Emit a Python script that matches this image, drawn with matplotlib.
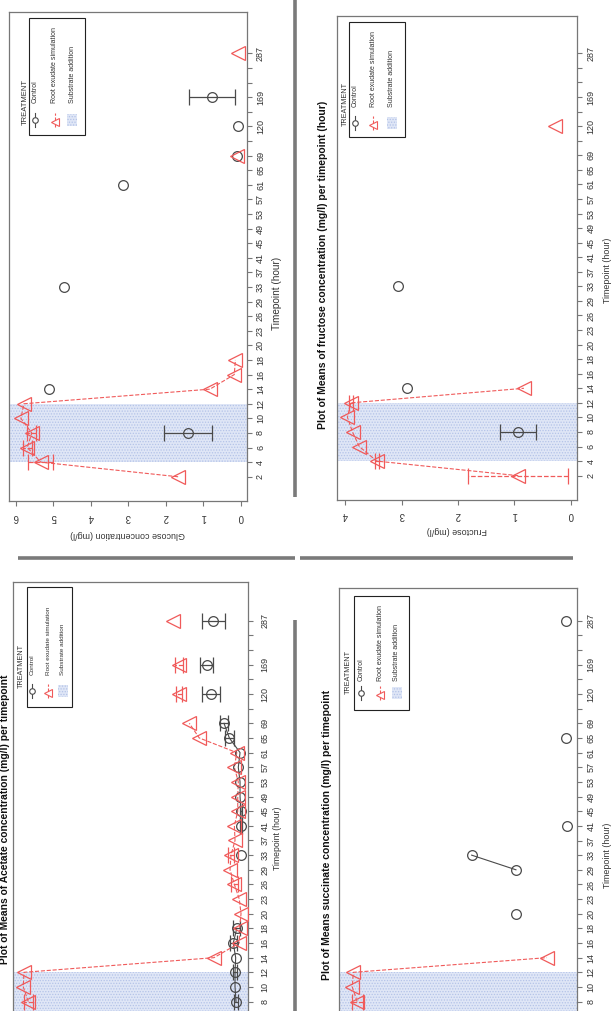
import matplotlib
matplotlib.use('Agg')
import matplotlib.pyplot as plt
from matplotlib.lines import Line2D
from matplotlib.patches import Rectangle

plt.rcParams['font.family'] = ['Liberation Sans', 'DejaVu Sans']
plt.rcParams['hatch.linewidth'] = 0.6

W, H = 615, 1011

# ---------------- data ----------------
levels = ['2', '4', '6', '8', '10', '12', '14', '16', '18', '20', '23', '26', '29', '33',
          '37', '41', '45', '49', '53', '57', '61', '65', '69', '', '120', '', '169', '', '', '287']
substrate_start, substrate_end = '4', '12'
legend_title = 'TREATMENT'
legend_labels = ['Control', 'Root exudate simulation', 'Substrate addition']
xlabel_text = 'Timepoint (hour)'

glucose_ctrl_t = [8, 14, 33, 61, 69, 120, 169]
glucose_ctrl_mean = [1.41, 5.11, 4.71, 3.15, 0.11, 0.08, 0.77]
glucose_ctrl_err = [0.64, 0, 0, 0, 0, 0, 0.62]
glucose_root_t = [2, 4, 6, 8, 10, 12, 14, 16, 18, 69, 287]
glucose_root_mean = [1.67, 5.34, 5.70, 5.58, 5.87, 5.79, 0.82, 0.17, 0.14, 0.11, 0.06]
glucose_root_err = [0, 0.33, 0.12, 0.12, 0, 0, 0, 0, 0, 0, 0]
glucose_ticks = [0, 1, 2, 3, 4, 5, 6]

fructose_ctrl_t = [8, 14, 33]
fructose_ctrl_mean = [0.94, 2.90, 3.07]
fructose_ctrl_err = [0.32, 0, 0]
fructose_root_t = [2, 4, 6, 8, 10, 12, 14, 120]
fructose_root_mean = [0.93, 3.44, 3.75, 3.87, 3.96, 3.90, 0.83, 0.28]
fructose_root_err = [0.89, 0.04, 0, 0, 0, 0.03, 0, 0]
fructose_ticks = [0, 1, 2, 3, 4]

acetate_ctrl_t = [8, 10, 12, 14, 16, 18, 33, 41, 45, 49, 53, 57, 61, 65, 69, 120, 169, 287]
acetate_ctrl_mean = [0.46, 0.55, 0.55, 0.49, 0.71, 0.39, 0.03, 0.02, 0.0, 0.09, 0.09, 0.25,
                     0.09, 1.07, 1.56, 2.75, 3.15, 2.54]
acetate_ctrl_err = [0.15, 0, 0.2, 0, 0.34, 0.3, 0, 0.1, 0.1, 0, 0, 0, 0, 0.43, 0.38, 0.8, 0.57, 1.07]
acetate_root_t = [8, 10, 12, 14, 16, 18, 20, 23, 26, 29, 33, 37, 41, 45, 49, 53, 57, 61, 65, 69,
                  120, 169, 287]
acetate_root_mean = [19.51, 19.97, 19.91, 2.48, 0.16, 0.13, 0.0, 0.16, 0.61, 1.01, 0.92, 0.55,
                     0.61, 0.30, 0.30, 0.25, 0.61, 0.39, 3.83, 4.74, 5.69, 5.69, 6.27]
acetate_root_err = [0.4, 0, 0, 0, 0, 0, 0, 0, 0.3, 0, 0.3, 0, 0, 0, 0, 0, 0, 0, 0, 0, 0.3, 0.35, 0]
acetate_ticks = [0, 5, 10, 15, 20]

succinate_ctrl_t = [20, 29, 33, 41, 65, 287]
succinate_ctrl_mean = [1.0, 1.0, 1.82, 0.06, 0.08, 0.08]
succinate_ctrl_err = [0, 0, 0, 0, 0, 0]
succinate_root_t = [8, 10, 12, 14]
succinate_root_mean = [3.94, 4.03, 4.01, 0.43]
succinate_root_err = [0.1, 0, 0, 0]
succinate_ticks = [0, 1, 2, 3, 4]

# ---------------- styling ----------------
CTRL = '#4a4a4a'
ROOT = '#f05a5a'
BAND_FACE = '#dfe6f6'
BAND_HATCH = '#b4c3e8'
BOX = '#777777'
SEP = '#7a7a7a'
TXT = '#333333'

fig = plt.figure(figsize=(W / 100, H / 100), dpi=100)
fig.patch.set_facecolor('white')
renderer = fig.canvas.get_renderer()


def fx(x):
    return x / W


def fy(y):
    return 1 - y / H


def px_rect(l, t, r, b):
    return [l / W, 1 - b / H, (r - l) / W, (b - t) / H]


def fit_text(x, y, s, target, rot=90, weight='normal', ha='center', va='center', fs=7, color=TXT):
    t = fig.text(fx(x), fy(y), s, rotation=rot, ha=ha, va=va, fontsize=fs,
                 fontweight=weight, color=color)
    bb = t.get_window_extent(renderer)
    long = bb.height if rot in (90, 270) else bb.width
    t.set_fontsize(fs * target / long)
    return t


def runs(idx):
    groups, cur = [], [0]
    for k in range(1, len(idx)):
        if idx[k] == idx[k - 1] + 1:
            cur.append(k)
        else:
            groups.append(cur)
            cur = [k]
    groups.append(cur)
    return groups


def draw_series(ax, ts, means, errs, color, marker, ms, ls):
    idx = [levels.index(str(t)) for t in ts]
    for g in runs(idx):
        if len(g) > 1:
            ax.plot([means[k] for k in g], [idx[k] for k in g], color=color, lw=0.8, ls=ls,
                    zorder=3)
    eb_x = [means[k] for k in range(len(ts)) if errs[k] > 0]
    eb_y = [idx[k] for k in range(len(ts)) if errs[k] > 0]
    eb_e = [errs[k] for k in range(len(ts)) if errs[k] > 0]
    if eb_x:
        eb = ax.errorbar(eb_x, eb_y, xerr=eb_e, fmt='none', ecolor=color, elinewidth=0.9,
                         capsize=5.5, capthick=0.9, zorder=3)
        for lc in eb[2]:
            lc.set_linestyle(ls)
    ax.plot(means, idx, ls='none', marker=marker, ms=ms, mfc='none', mec=color, mew=0.9,
            zorder=4)


def panel(rect, xlim, ylim, ticks, ctrl, root, ylab_pad, tl_pad, show_xlabels=True,
          first_level=0):
    ax = fig.add_axes(px_rect(*rect))
    ax.set_xlim(*xlim)
    ax.set_ylim(*ylim)
    ax.axhspan(levels.index(substrate_start), levels.index(substrate_end),
               facecolor=BAND_FACE, edgecolor=BAND_HATCH, hatch='......', lw=0, zorder=1)
    draw_series(ax, *ctrl, CTRL, 'o', 7, '-')
    draw_series(ax, *root, ROOT, '<', 10, '--')
    ax.yaxis.tick_right()
    ax.set_yticks(range(first_level, len(levels)))
    ax.set_yticklabels(levels[first_level:], rotation=90, va='center', fontsize=6.5, color=TXT)
    ax.tick_params(axis='y', length=3.5, pad=tl_pad, color=BOX, width=0.8)
    ax.set_xticks(ticks)
    if show_xlabels:
        ax.set_xticklabels([str(v) for v in ticks], rotation=180, fontsize=7, color=TXT)
    else:
        ax.set_xticklabels([])
    ax.tick_params(axis='x', length=3.5, pad=ylab_pad, color=BOX, width=0.8)
    for s in ax.spines.values():
        s.set_color(BOX)
        s.set_linewidth(0.9)
    return ax


def legend(box, title_x, title_yc, rows_x, sym_yc, text_y0, fs_text, title_len):
    x0, y0, x1, y1 = box
    fig.add_artist(Rectangle((fx(x0), fy(y1)), fx(x1) - fx(x0), fy(y0) - fy(y1),
                             transform=fig.transFigure, fill=False, ec='#222222', lw=0.8))
    fit_text(title_x, title_yc, legend_title, title_len, fs=5)
    xc, xr, xs = rows_x
    fig.add_artist(Line2D([fx(xc), fx(xc)], [fy(sym_yc + 7), fy(sym_yc - 7)],
                          transform=fig.transFigure, color=CTRL, lw=0.8))
    fig.add_artist(Line2D([fx(xc)], [fy(sym_yc)], transform=fig.transFigure, ls='none',
                          marker='o', ms=4, mfc='white', mec=CTRL, mew=0.8))
    fig.add_artist(Line2D([fx(xr), fx(xr)], [fy(sym_yc + 7), fy(sym_yc - 7)],
                          transform=fig.transFigure, color=ROOT, lw=0.8, ls='--'))
    fig.add_artist(Line2D([fx(xr)], [fy(sym_yc + 2)], transform=fig.transFigure, ls='none',
                          marker='<', ms=6, mfc='white', mec=ROOT, mew=0.8))
    fig.add_artist(Rectangle((fx(xs - 5), fy(sym_yc + 6)), 10 / W, 12 / H,
                             transform=fig.transFigure, facecolor=BAND_FACE,
                             edgecolor=BAND_HATCH, hatch='......', lw=0))
    for xx, lab in zip(rows_x, legend_labels):
        fig.text(fx(xx), fy(text_y0), lab, rotation=90, ha='center', va='bottom',
                 fontsize=fs_text, color=TXT)


# ---------------- panels ----------------
# Glucose (top-left; its title sits mostly past the page's left edge)
panel((9.3, 12, 247, 501), (6.18, -0.17), (-1.66, 31.83), glucose_ticks,
      (glucose_ctrl_t, glucose_ctrl_mean, glucose_ctrl_err),
      (glucose_root_t, glucose_root_mean, glucose_root_err), 4.5, 3.0)
fit_text(-3.5, 262, 'Plot of Means of Glucose concentration (mg/l) per timepoint (hour)', 330,
         weight='bold', color='#111111')
fit_text(277, 293.5, xlabel_text, 73)
fit_text(128, 534, 'Glucose concentration (mg/l)', 114, rot=180)
legend((29.3, 18.3, 85, 135), 25, 101.7, (35, 55, 72), 120, 103, 5.0, 47)

# Fructose (top-right)
panel((337.3, 16, 577.3, 500), (4.14, -0.117), (-1.67, 31.56), fructose_ticks,
      (fructose_ctrl_t, fructose_ctrl_mean, fructose_ctrl_err),
      (fructose_root_t, fructose_root_mean, fructose_root_err), 4.0, 3.0)
fit_text(323, 265, 'Plot of Means of fructose concentration (mg/l) per timepoint (hour)', 330,
         weight='bold', color='#111111')
fit_text(607, 270, xlabel_text, 65)
fit_text(456.7, 530, 'Fructose (mg/l)', 60, rot=180)
legend((349.3, 21.7, 405.3, 136.7), 345, 104, (355, 373.3, 391.7), 123, 106.7, 5.0, 45)

# Acetate (bottom-left; lower part of the page is cropped)
panel((12.7, 581.7, 248, 1070), (20.94, -0.64), (-1.67, 31.67), acetate_ticks,
      (acetate_ctrl_t, acetate_ctrl_mean, acetate_ctrl_err),
      (acetate_root_t, acetate_root_mean, acetate_root_err), 4.0, 5.5, show_xlabels=False,
      first_level=3)
fit_text(4.8, 819, 'Plot of Means of Acetate concentration (mg/l) per timepoint', 288,
         weight='bold', color='#111111')
fit_text(277, 838, xlabel_text, 63)
legend((26.7, 586.7, 71.7, 706.7), 21.7, 666, (31.7, 48.3, 62.7), 691, 675, 4.6, 45)

# Succinate (bottom-right; lower part of the page is cropped)
panel((339.3, 588.3, 577, 1070), (4.27, -0.13), (-1.67, 31.22), succinate_ticks,
      (succinate_ctrl_t, succinate_ctrl_mean, succinate_ctrl_err),
      (succinate_root_t, succinate_root_mean, succinate_root_err), 4.0, 3.5, show_xlabels=False,
      first_level=3)
fit_text(326.7, 835, 'Plot of Means succinate concentration (mg/l) per timepoint', 290,
         weight='bold', color='#111111')
fit_text(607, 855, xlabel_text, 65)
legend((354, 596, 409.3, 710), 348.3, 672, (361, 380, 397), 693, 681, 5.0, 45)

# ---------------- page separators ----------------
for (x0, y0, x1, y1) in [(295, 0, 295, 497), (295, 620, 295, 1011),
                         (18, 558, 295, 558), (300, 558, 573, 558)]:
    fig.add_artist(Line2D([fx(x0), fx(x1)], [fy(y0), fy(y1)], transform=fig.transFigure,
                          color=SEP, lw=2.6, solid_capstyle='butt'))

fig.savefig('out.png', dpi=100, facecolor='white')
